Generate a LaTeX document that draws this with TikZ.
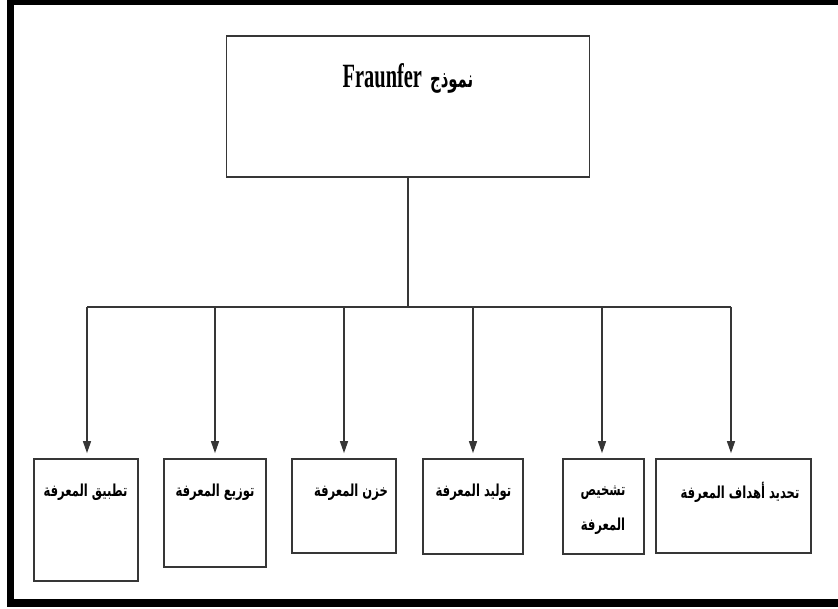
\documentclass[tikz,border=0pt]{standalone}
\usepackage{fontspec}
\usetikzlibrary{arrows.meta}
\TeXXeTstate=1
\newfontfamily\arabicfont[Script=Arabic,FakeStretch=0.7]{DejaVu Sans}
\newfontfamily\arabictitle[Script=Arabic,FakeStretch=0.62]{DejaVu Sans}
\newfontfamily\latinfont[FakeStretch=0.6]{Liberation Serif}
\definecolor{linegray}{HTML}{363636}

\begin{document}
\begin{tikzpicture}[x=1pt,y=1pt,
  stepbox/.style={draw=linegray, line width=1.7pt, rectangle, inner sep=0pt},
  lbl/.style={font=\arabicfont\bfseries\fontsize{16.5}{35}\selectfont, align=center, inner sep=0pt},
  conn/.style={draw=linegray, line width=1.4pt},
  arr/.style={conn, -{Triangle[length=12pt,width=8pt]}, shorten >=5pt},
  frame/.style={draw=black, line width=7.5pt}]
\clip (0,0) rectangle (838,609);
\fill[white] (0,0) rectangle (838,609);

% outer frame (its right side runs past the page edge)
\draw[frame] (10.5,6) rectangle (850,607.5);

% top box and its title
\node[stepbox, minimum width=363pt, minimum height=141pt] (main) at (408,502.5) {};
\node[inner sep=0pt] (title) at (408,531)
  {{\latinfont\bfseries\fontsize{34}{38}\selectfont Fraunfer}\hspace{8pt}{\arabictitle\bfseries\fontsize{24}{30}\selectfont\beginR نموذج\endR}};

% lower boxes
\node[stepbox, minimum width=104pt, minimum height=122pt] (t1) at (86,89) {};
\node[stepbox, minimum width=102pt, minimum height=108pt] (t2) at (215,96) {};
\node[stepbox, minimum width=104pt, minimum height=94pt]  (t3) at (344,103) {};
\node[stepbox, minimum width=100pt, minimum height=95pt]  (t4) at (473,102.5) {};
\node[stepbox, minimum width=81pt,  minimum height=95pt]  (t5) at (603.5,102.5) {};
\node[stepbox, minimum width=155pt, minimum height=94pt]  (t6) at (733.5,103) {};

% labels of the lower boxes
\node[lbl] (l1) at (85.5,117) {\beginR تطبيق المعرفة\endR};
\node[lbl] (l2) at (215,117) {\beginR توزيع المعرفة\endR};
\node[lbl] (l3) at (351,117) {\beginR خزن المعرفة\endR};
\node[lbl] (l4) at (473.5,117) {\beginR توليد المعرفة\endR};
\node[lbl] (l5) at (603,99) {\beginR تشخيص\endR\\\beginR المعرفة\endR};
\node[lbl] (l6) at (740,117) {\beginR تحديد أهداف المعرفة\endR};

% distribution bus
\coordinate (b1) at (87,302);
\coordinate (b2) at (215,302);
\coordinate (b3) at (344,302);
\coordinate (b4) at (473,302);
\coordinate (b5) at (602,302);
\coordinate (b6) at (731,302);
\draw[conn] (main.south) -- (main.south |- b1);
\draw[conn] (b1) -- (b6);

% arrows down to the boxes
\draw[arr] (b1) -- (b1 |- t1.north);
\draw[arr] (b2) -- (b2 |- t2.north);
\draw[arr] (b3) -- (b3 |- t3.north);
\draw[arr] (b4) -- (b4 |- t4.north);
\draw[arr] (b5) -- (b5 |- t5.north);
\draw[arr] (b6) -- (b6 |- t6.north);
\end{tikzpicture}
\end{document}
